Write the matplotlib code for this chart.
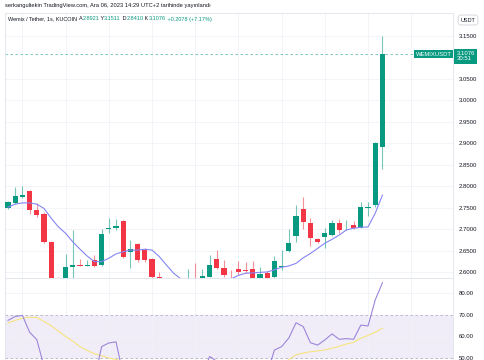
import numpy as np
import matplotlib.pyplot as plt

# WEMIX/USDT 1s candles
opens = [2.749, 2.761, 2.775, 2.789, 2.744, 2.735, 2.670, 2.585, 2.583, 2.612,
         2.617, 2.615, 2.628, 2.616, 2.700, 2.702, 2.719, 2.647, 2.665, 2.651,
         2.630, 2.589, 2.585, 2.560, 2.555, 2.570, 2.580, 2.572, 2.589, 2.630,
         2.609, 2.594, 2.607, 2.603, 2.607, 2.584, 2.597, 2.588, 2.612, 2.649,
         2.684, 2.747, 2.714, 2.677, 2.681, 2.686, 2.714, 2.699, 2.709, 2.703,
         2.749, 2.756, 2.8921]
highs = [2.766, 2.798, 2.800, 2.791, 2.761, 2.740, 2.672, 2.588, 2.642, 2.698,
         2.630, 2.628, 2.640, 2.700, 2.726, 2.724, 2.721, 2.674, 2.668, 2.655,
         2.633, 2.600, 2.586, 2.575, 2.580, 2.607, 2.620, 2.607, 2.640, 2.651,
         2.628, 2.604, 2.626, 2.624, 2.626, 2.611, 2.603, 2.637, 2.651, 2.700,
         2.756, 2.775, 2.726, 2.679, 2.702, 2.721, 2.723, 2.721, 2.718, 2.763,
         2.763, 2.902, 3.1511]
lows = [2.746, 2.758, 2.772, 2.735, 2.728, 2.667, 2.560, 2.570, 2.575, 2.585,
        2.613, 2.613, 2.611, 2.614, 2.691, 2.698, 2.632, 2.609, 2.624, 2.624,
        2.583, 2.580, 2.550, 2.545, 2.548, 2.562, 2.560, 2.565, 2.588, 2.607,
        2.588, 2.585, 2.593, 2.597, 2.580, 2.580, 2.580, 2.586, 2.605, 2.647,
        2.670, 2.700, 2.660, 2.668, 2.656, 2.684, 2.691, 2.698, 2.700, 2.702,
        2.730, 2.752, 2.8410]
closes = [2.763, 2.777, 2.779, 2.744, 2.733, 2.670, 2.584, 2.583, 2.612, 2.616,
          2.615, 2.617, 2.614, 2.688, 2.702, 2.707, 2.635, 2.654, 2.628, 2.628,
          2.588, 2.585, 2.560, 2.555, 2.570, 2.580, 2.572, 2.591, 2.616, 2.609,
          2.593, 2.592, 2.600, 2.602, 2.584, 2.595, 2.584, 2.626, 2.615, 2.667,
          2.730, 2.717, 2.679, 2.670, 2.690, 2.714, 2.698, 2.700, 2.703, 2.751,
          2.751, 2.8998, 3.1076]

# moving average on price pane
ma_line = [2.751, 2.758, 2.761, 2.761, 2.758, 2.748, 2.725, 2.705, 2.690, 2.670,
           2.653, 2.637, 2.624, 2.624, 2.632, 2.642, 2.647, 2.651, 2.651, 2.653,
           2.651, 2.636, 2.616, 2.597, 2.584, 2.575, 2.568, 2.565, 2.568, 2.574,
           2.580, 2.584, 2.592, 2.597, 2.598, 2.599, 2.600, 2.605, 2.611, 2.614,
           2.620, 2.633, 2.643, 2.655, 2.667, 2.676, 2.686, 2.698, 2.702, 2.704,
           2.705, 2.737, 2.779]

# RSI and its moving average
rsi = [67.5, 69.3, 69.8, 62.0, 58.5, 46.0, 33.0, 32.0, 40.0, 41.0,
       40.0, 41.0, 40.0, 55.3, 57.0, 57.5, 42.0, 44.0, 41.0, 40.0,
       35.0, 34.0, 31.0, 30.0, 34.0, 38.0, 36.0, 42.0, 50.7, 48.5,
       44.0, 44.0, 46.0, 46.0, 42.0, 45.0, 43.0, 53.7, 55.3, 59.3,
       66.4, 64.6, 57.1, 56.0, 58.4, 61.2, 58.7, 59.0, 58.7, 65.3,
       64.9, 77.0, 85.0]
rsi_ma = [66.3, 67.5, 68.5, 69.0, 68.8, 67.0, 65.0, 62.5, 60.0, 57.8,
          55.3, 53.5, 52.0, 51.0, 50.0, 49.3, 48.5, 47.8, 47.0, 46.3,
          45.5, 44.5, 43.5, 42.5, 41.8, 41.2, 40.8, 40.5, 40.5, 40.8,
          41.0, 41.2, 41.5, 41.8, 42.0, 42.5, 43.5, 46.0, 47.5, 49.2,
          51.5, 52.3, 52.9, 53.3, 53.7, 54.5, 55.5, 56.5, 57.3, 59.2,
          60.5, 62.0, 63.8]

price_ticks = [2.60, 2.65, 2.70, 2.75, 2.80, 2.85, 2.90, 2.95, 3.00, 3.05, 3.15]
rsi_ticks = [50, 60, 70, 80]

UP = "#089981"
DOWN = "#F23645"
TXT = "#131722"
GRID = "#f0f2f6"

plt.rcParams['font.family'] = ['Liberation Sans', 'DejaVu Sans']

W, H = 485, 360
fig = plt.figure(figsize=(W / 100, H / 100), dpi=100)


def box(x0, y0, x1, y1):
    # pixel box (top-left origin) -> figure rect
    return [x0 / W, 1 - y1 / H, (x1 - x0) / W, (y1 - y0) / H]


ax = fig.add_axes(box(5, 13, 453, 278))
ax_rsi = fig.add_axes(box(5, 278, 453, 360), sharex=ax)

idx = np.arange(len(opens))
o = np.array(opens)
c = np.array(closes)
up = c >= o
colors = np.where(up, UP, DOWN)

ax.vlines(idx, lows, highs, colors=colors, lw=0.8, alpha=0.55, zorder=2)
body = np.maximum(np.abs(c - o), 0.0015)
ax.bar(idx, body, bottom=np.minimum(o, c), width=0.72, color=colors,
       linewidth=0, zorder=3)
ax.plot(idx, ma_line, color="#8585f4", lw=0.8, zorder=4)

# last price line + labels
last = closes[-1]
ax.axhline(last, color=UP, lw=0.6, ls=(0, (3, 3)), alpha=0.6, zorder=1)
ax.text(0.997, last, "WEMIXUSDT", transform=ax.get_yaxis_transform(),
        ha="right", va="center", fontsize=4.2, color="white", zorder=6,
        bbox=dict(boxstyle="square,pad=0.3", fc=UP, ec="none"))
ax.text(1.008, last + 0.0075, "3.1076\n30:51", transform=ax.get_yaxis_transform(),
        ha="left", va="top", fontsize=4.3, color="white", zorder=6,
        linespacing=1.1, clip_on=False,
        bbox=dict(boxstyle="square,pad=0.4", fc=UP, ec="none"))

ax.set_ylim(2.5859, 3.2036)
ax.set_xlim(-0.42, 61.8)
ax.set_yticks(price_ticks)
ax.set_yticklabels([f"{t:.4f}" for t in price_ticks])

ax_rsi.axhspan(50, 70, color="#7E57C2", alpha=0.1, lw=0, zorder=0)
ax_rsi.axhline(70, color="#b2b0c4", lw=0.6, ls=(0, (3, 3)), zorder=1)
ax_rsi.axhline(50, color="#b2b0c4", lw=0.6, ls=(0, (3, 3)), zorder=1)
ax_rsi.plot(idx, rsi, color="#9c85da", lw=0.8, zorder=3)
ax_rsi.plot(idx, rsi_ma, color="#f7e37e", lw=0.8, zorder=2)
ax_rsi.set_ylim(49.07, 87.2)
ax_rsi.set_yticks(rsi_ticks)
ax_rsi.set_yticklabels([f"{t:.2f}" for t in rsi_ticks])

for a in (ax, ax_rsi):
    a.yaxis.tick_right()
    a.tick_params(axis="y", length=0, pad=4, labelsize=4.3, labelcolor=TXT)
    a.tick_params(axis="x", length=0, labelbottom=False)
    a.set_xticks(np.arange(2, 60, 6))
    a.grid(True, color=GRID, lw=0.6, zorder=0)
    a.set_axisbelow(True)
    for s in a.spines.values():
        s.set_color("#e0e3eb")
        s.set_linewidth(0.6)
    a.spines["bottom"].set_visible(False)
ax.spines["bottom"].set_visible(True)

# header
fig.text(5 / W, 1 - 5 / H,
         "serkangultekin TradingView.com, Ara 06, 2023 14:29 UTC+2 tarihinde yayınlandı",
         fontsize=4.15, color=TXT, va="center", ha="left")

parts = [("Wemix / Tether, 1s, KUCOIN ", TXT), ("A", TXT), ("2.8921", UP),
         (" Y", TXT), ("3.1511", UP), (" D", TXT), ("2.8410", UP),
         (" K", TXT), ("3.1076", UP), (" +0.2078 (+7.17%)", UP)]
prev = ax.text(3 / 448, 1 - 6 / 265, parts[0][0], transform=ax.transAxes,
               fontsize=4.0, color=parts[0][1], va="center", ha="left")
for s, col in parts[1:]:
    prev = ax.annotate(s, xy=(1, 0), xycoords=prev, xytext=(0, 0),
                       textcoords="offset points", fontsize=4.0, color=col,
                       va="bottom", ha="left")

fig.text(468 / W, 1 - 20 / H, "USDT", fontsize=4.0, color=TXT, ha="center",
         va="center", bbox=dict(boxstyle="round,pad=0.45", fc="white",
                                ec="#d1d4dc", lw=0.6))

fig.savefig("out.png", dpi=100)
